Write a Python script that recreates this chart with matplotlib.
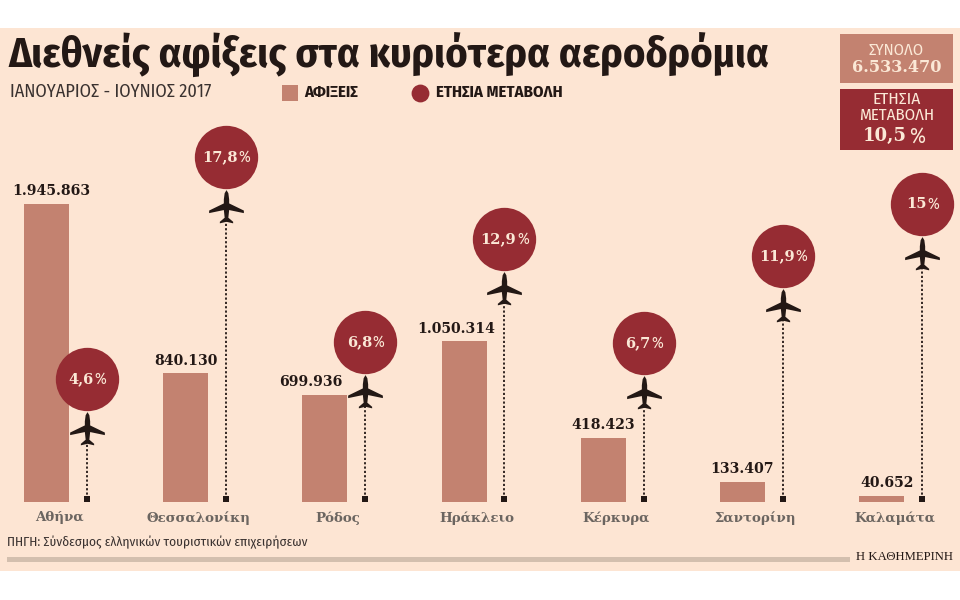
# -*- coding: utf-8 -*-
import logging
import matplotlib
matplotlib.use('Agg')
import matplotlib.pyplot as plt
import numpy as np
from matplotlib.patches import Rectangle
from matplotlib.path import Path

airports = ['Αθήνα', 'Θεσσαλονίκη', 'Ρόδος', 'Ηράκλειο', 'Κέρκυρα', 'Σαντορίνη', 'Καλαμάτα']
arrivals = [1945863, 840130, 699936, 1050314, 418423, 133407, 40652]
arrival_labels = ['1.945.863', '840.130', '699.936', '1.050.314', '418.423', '133.407', '40.652']
change = [4.6, 17.8, 6.8, 12.9, 6.7, 11.9, 15]
change_labels = ['4,6', '17,8', '6,8', '12,9', '6,7', '11,9', '15']

BG = '#fde5d3'
BAR = '#c38270'
RED = '#962c33'
INK = '#231815'
GREY = '#6b6560'
CREAM = '#fbe8d6'

# condensed faces first, the plain ones stay as a fallback
COND = ['Fira Sans Condensed', 'Roboto Condensed', 'Liberation Sans']
SLAB = ['DejaVu Serif']

logging.getLogger('matplotlib.font_manager').setLevel(logging.ERROR)

fig = plt.figure(figsize=(9.6, 6.0), dpi=100, facecolor='white')
renderer = fig.canvas.get_renderer()


def fit(txt, width):
    # scale a text so it runs over the given number of pixels
    w = txt.get_window_extent(renderer).width
    txt.set_fontsize(txt.get_fontsize() * width / w)
    return txt


# page layer in pixel coordinates
page = fig.add_axes([0, 0, 1, 1], zorder=0)
page.set_xlim(0, 960)
page.set_ylim(600, 0)
page.axis('off')
page.add_patch(Rectangle((0, 28), 960, 543, fc=BG, ec='none'))

fit(page.text(8, 68, 'Διεθνείς αφίξεις στα κυριότερα αεροδρόμια', family=COND, weight='bold',
              fontsize=35, color=INK, va='baseline'), 762)
fit(page.text(10, 92, 'ΙΑΝΟΥΑΡΙΟΣ - ΙΟΥΝΙΟΣ 2017', family=COND, fontsize=13, color='#3a3230',
              va='center'), 202)

# legend
page.add_patch(Rectangle((282, 85), 16, 16, fc=BAR, ec='none'))
fit(page.text(304, 92.5, 'ΑΦΙΞΕΙΣ', family=COND, weight='bold', fontsize=10, color=INK, va='center'), 54)
page.scatter([420], [92.5], s=165, color=RED, linewidths=0)
fit(page.text(436, 92.5, 'ΕΤΗΣΙΑ ΜΕΤΑΒΟΛΗ', family=COND, weight='bold', fontsize=10, color=INK, va='center'), 127)

# totals boxes
page.add_patch(Rectangle((840, 34), 113, 49, fc=BAR, ec='none'))
fit(page.text(896.5, 50, 'ΣΥΝΟΛΟ', family=COND, fontsize=11, color=CREAM, ha='center', va='center'), 55)
fit(page.text(896.5, 68, '6.533.470', family=SLAB, weight='bold', fontsize=11, color=CREAM, ha='center',
              va='center'), 90)
page.add_patch(Rectangle((840, 89), 113, 61, fc=RED, ec='none'))
fit(page.text(896.5, 99.5, 'ΕΤΗΣΙΑ', family=COND, fontsize=11, color=CREAM, ha='center', va='center'), 48)
fit(page.text(896.5, 115, 'ΜΕΤΑΒΟΛΗ', family=COND, fontsize=11, color=CREAM, ha='center', va='center'), 75)
fit(page.text(885, 136, '10,5', family=SLAB, weight='bold', fontsize=15, color=CREAM, ha='center', va='center'), 44)
fit(page.text(917, 136.5, '%', family=COND, fontsize=15, color=CREAM, ha='center', va='center'), 16)

# footer
fit(page.text(7, 542, 'ΠΗΓΗ: Σύνδεσμος ελληνικών τουριστικών επιχειρήσεων', family=COND,
              fontsize=10, color='#3a3230', va='center'), 300)
page.add_patch(Rectangle((7, 557), 843, 5, fc='#d3bfae', ec='none'))
fit(page.text(953, 557, 'Η ΚΑΘΗΜΕΡΙΝΗ', family=['Liberation Serif'], fontsize=11, color=INK, ha='right',
              va='center'), 98)

# one x unit is the spacing between airports
STEP = 139.2
FIRST = 46.5
x = np.arange(len(airports))
xlim = (-FIRST / STEP, (960 - FIRST) / STEP)
BASE_PX = 502

ax = fig.add_axes([0, (600 - BASE_PX) / 600, 1, BASE_PX / 600], zorder=1)
ax.patch.set_alpha(0)
ax.set_xlim(*xlim)
ax.set_ylim(0, BASE_PX * arrivals[0] / 298)
ax.axis('off')
ax.bar(x, arrivals, width=45 / STEP, color=BAR, linewidth=0)

label_shift = [5, 0, -14, -8, 0, 0, 5]
value_texts = []
for i, (v, lab) in enumerate(zip(arrivals, arrival_labels)):
    value_texts.append(ax.annotate(lab, (i, v), xytext=(label_shift[i] * 0.72, 4), textcoords='offset points',
                                   ha='center', va='bottom', family=SLAB, weight='bold', fontsize=10, color=INK))
fit(value_texts[0], 78)
for t in value_texts[1:]:
    t.set_fontsize(value_texts[0].get_fontsize())

name_texts = []
for i, name in enumerate(airports):
    name_texts.append(page.text(FIRST + STEP * i + 13, 518, name, family=SLAB, weight='bold', fontsize=10,
                                color=GREY, ha='center', va='center'))
fit(name_texts[1], 104)
for t in name_texts:
    t.set_fontsize(name_texts[1].get_fontsize())

# annual change sits on its own scale above the same baseline
PX_PER_PCT = 16.8
ZERO_PX = 46
ax2 = fig.add_axes([0, (600 - BASE_PX) / 600, 1, BASE_PX / 600], zorder=2)
ax2.patch.set_alpha(0)
ax2.set_xlim(*xlim)
ax2.set_ylim(-ZERO_PX / PX_PER_PCT, (BASE_PX - ZERO_PX) / PX_PER_PCT)
ax2.axis('off')

plane = Path(np.array([
    [0, 17], [1.8, 14], [2.6, 8], [2.6, 4], [17, -3], [17, -5.5], [2.6, -2.5], [1.8, -10], [6.5, -14], [6.5, -15.5],
    [0, -14], [-6.5, -15.5], [-6.5, -14], [-1.8, -10], [-2.6, -2.5], [-17, -5.5], [-17, -3], [-2.6, 4], [-2.6, 8],
    [-1.8, 14], [0, 17],
]))

lx = x + 0.29
plane_y = np.array(change) - 50 / PX_PER_PCT
foot_y = ax2.get_ylim()[0] + 3 / PX_PER_PCT
ax2.vlines(lx, foot_y, plane_y, color=INK, linewidth=1.3, linestyles=(0, (1.2, 1.2)))
ax2.plot(lx, [foot_y] * len(lx), ls='none', marker='s', ms=4.3, color=INK, mew=0)
ax2.plot(lx, plane_y, ls='none', marker=plane, ms=25, color=INK, mew=0)
ax2.scatter(lx, change, s=2080, color=RED, linewidths=0, zorder=3)

# the value is bold and the percent sign lighter, centred as one piece
for xi, v, lab in zip(lx, change, change_labels):
    a = ax2.annotate(lab, (xi, v), xytext=(0, 0), textcoords='offset points', ha='right', va='center',
                     family=SLAB, weight='bold', fontsize=10.5, color=CREAM, zorder=4)
    b = ax2.annotate('%', (xi, v), xytext=(0, 0), textcoords='offset points', ha='left', va='center',
                     family=COND, fontsize=11.5, color=CREAM, zorder=4)
    w1 = a.get_window_extent(renderer).width
    w2 = b.get_window_extent(renderer).width
    shift = (w1 - w2) / 2 * 72 / fig.dpi
    a.set_position((shift, 0))
    b.set_position((shift + 0.5, 0))

fig.savefig('out.png', dpi=100, facecolor='white')
